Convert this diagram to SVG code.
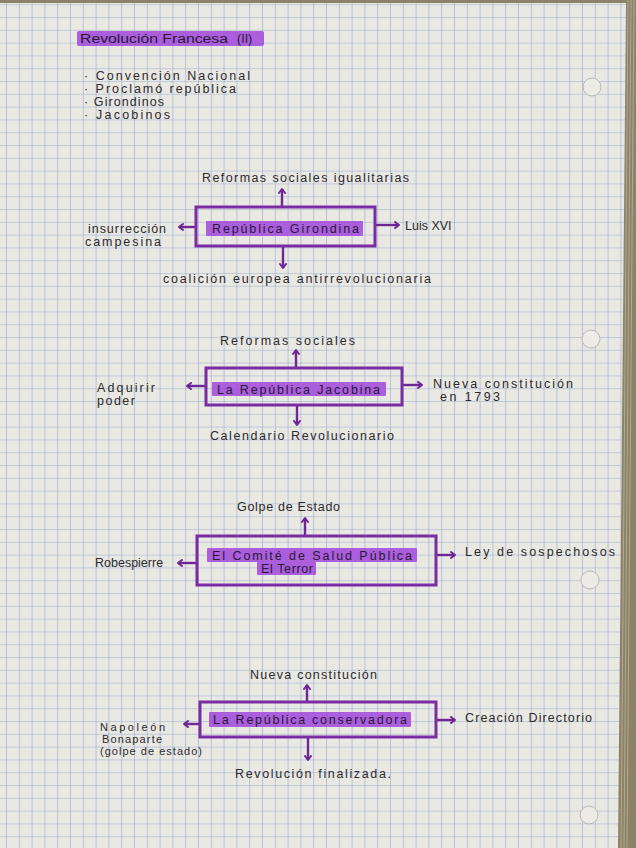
<svg xmlns="http://www.w3.org/2000/svg" width="636" height="848" viewBox="0 0 636 848">
<style>
.t{font-family:"Liberation Sans","DejaVu Sans",sans-serif;font-size:12.5px;fill:#2c2a2e;}
.ts{font-family:"Liberation Sans","DejaVu Sans",sans-serif;font-size:11px;fill:#2c2a2e;}
.tb{font-family:"Liberation Sans","DejaVu Sans",sans-serif;font-size:12.5px;fill:#2a1836;}
.box{fill:none;stroke:#7b2ca3;stroke-width:3;}
.hl{fill:#a552dc;opacity:0.92;}
.ar{stroke:#6e2596;stroke-width:2.4;fill:none;marker-end:url(#ah);}
.hole{fill:#ecebe7;stroke:#b9b8b2;stroke-width:1;}
</style>
<defs>
<pattern id="grid" patternUnits="userSpaceOnUse" x="6" y="4.2" width="12.8" height="12.8">
<path d="M0 0H12.8M0 0V12.8" stroke="#98abcb" stroke-width="1.2" fill="none"/>
</pattern>
<marker id="ah" markerWidth="8" markerHeight="8" refX="5" refY="4" orient="auto" markerUnits="userSpaceOnUse">
<path d="M1 1L5 4L1 7" fill="none" stroke="#6e2596" stroke-width="2" stroke-linecap="round" stroke-linejoin="round"/>
</marker>
</defs>
<g id="paper">
<rect x="0" y="0" width="636" height="848" fill="#8c8269"/>
<polygon points="0,3 626,3 618,848 0,848" fill="#e9e8e3"/>
<polygon points="0,3 626,3 618,848 0,848" fill="url(#grid)"/>
<g fill="none" stroke="#b4aa90" stroke-width="1">
<path d="M628 0L621 848M631 0L624 848M634 0L627 848"/>
</g>
<circle class="hole" cx="592" cy="87" r="9"/>
<circle class="hole" cx="591" cy="339" r="9"/>
<circle class="hole" cx="590" cy="580" r="9"/>
<circle class="hole" cx="589" cy="815" r="9"/>
</g>
<g id="title">
<rect class="hl" x="77" y="31" width="187" height="15" rx="2"/>
<text class="tb" x="80" y="43" textLength="148" lengthAdjust="spacingAndGlyphs">Revolución Francesa</text>
<text class="tb" x="237" y="43">(II)</text>
</g>
<g id="bullets">
<text class="t" x="84" y="80" textLength="166" lengthAdjust="spacing">· Convención Nacional</text>
<text class="t" x="84" y="93" textLength="152" lengthAdjust="spacing">· Proclamó república</text>
<text class="t" x="84" y="106" textLength="80" lengthAdjust="spacing">· Girondinos</text>
<text class="t" x="84" y="119" textLength="86" lengthAdjust="spacing">· Jacobinos</text>
</g>
<g id="connectors">
<path class="ar" d="M282 207V189"/>
<path class="ar" d="M196 227H179"/>
<path class="ar" d="M375 225H399"/>
<path class="ar" d="M283 246V268"/>
<path class="ar" d="M296 368V350"/>
<path class="ar" d="M206 386H187"/>
<path class="ar" d="M402 385H422"/>
<path class="ar" d="M297 405V425"/>
<path class="ar" d="M305 536V518"/>
<path class="ar" d="M197 563H178"/>
<path class="ar" d="M436 555H455"/>
<path class="ar" d="M307 702V685"/>
<path class="ar" d="M200 724H184"/>
<path class="ar" d="M436 720H455"/>
<path class="ar" d="M308 737V760"/>
</g>
<g id="girondina">
<rect class="box" x="196" y="207" width="179" height="39"/>
<rect class="hl" x="206" y="221" width="157" height="15" rx="1"/>
<text class="tb" x="212" y="233" textLength="147" lengthAdjust="spacing">República Girondina</text>
</g>
<g id="girondina-labels">
<text class="t" x="202" y="182" textLength="207" lengthAdjust="spacing">Reformas sociales igualitarias</text>
<text class="t" x="88" y="233" textLength="78" lengthAdjust="spacing">insurrección</text>
<text class="t" x="85" y="246" textLength="76" lengthAdjust="spacing">campesina</text>
<text class="t" x="405" y="230">Luis XVI</text>
<text class="t" x="163" y="283" textLength="268" lengthAdjust="spacing">coalición europea antirrevolucionaria</text>
</g>
<g id="jacobina">
<rect class="box" x="206" y="368" width="196" height="37"/>
<rect class="hl" x="212" y="382" width="174" height="14" rx="1"/>
<text class="tb" x="217" y="394" textLength="163" lengthAdjust="spacing">La República Jacobina</text>
</g>
<g id="jacobina-labels">
<text class="t" x="220" y="345" textLength="135" lengthAdjust="spacing">Reformas sociales</text>
<text class="t" x="97" y="392" textLength="58" lengthAdjust="spacing">Adquirir</text>
<text class="t" x="97" y="405" textLength="38" lengthAdjust="spacing">poder</text>
<text class="t" x="433" y="388" textLength="140" lengthAdjust="spacing">Nueva constitución</text>
<text class="t" x="440" y="401" textLength="60" lengthAdjust="spacing">en 1793</text>
<text class="t" x="210" y="440" textLength="184" lengthAdjust="spacing">Calendario Revolucionario</text>
</g>
<g id="comite">
<rect class="box" x="197" y="536" width="239" height="49"/>
<rect class="hl" x="207" y="548" width="210" height="14" rx="1"/>
<rect class="hl" x="257" y="562" width="59" height="13" rx="1"/>
<text class="tb" x="212" y="560" textLength="200" lengthAdjust="spacing">El Comité de Salud Pública</text>
<text class="tb" x="261" y="573" textLength="52" lengthAdjust="spacing">El Terror</text>
</g>
<g id="comite-labels">
<text class="t" x="237" y="511" textLength="103" lengthAdjust="spacing">Golpe de Estado</text>
<text class="t" x="95" y="567">Robespierre</text>
<text class="t" x="465" y="556" textLength="150" lengthAdjust="spacing">Ley de sospechosos</text>
</g>
<g id="conservadora">
<rect class="box" x="200" y="702" width="236" height="35"/>
<rect class="hl" x="209" y="712" width="202" height="15" rx="1"/>
<text class="tb" x="213" y="724" textLength="194" lengthAdjust="spacing">La República conservadora</text>
</g>
<g id="conservadora-labels">
<text class="t" x="250" y="679" textLength="127" lengthAdjust="spacing">Nueva constitución</text>
<text class="ts" x="100" y="731" textLength="65" lengthAdjust="spacing">Napoleón</text>
<text class="ts" x="102" y="743" textLength="60" lengthAdjust="spacing">Bonaparte</text>
<text class="ts" x="100" y="755" textLength="102" lengthAdjust="spacing">(golpe de estado)</text>
<text class="t" x="465" y="722" textLength="127" lengthAdjust="spacing">Creación Directorio</text>
<text class="t" x="235" y="778" textLength="156" lengthAdjust="spacing">Revolución finalizada.</text>
</g>
</svg>
